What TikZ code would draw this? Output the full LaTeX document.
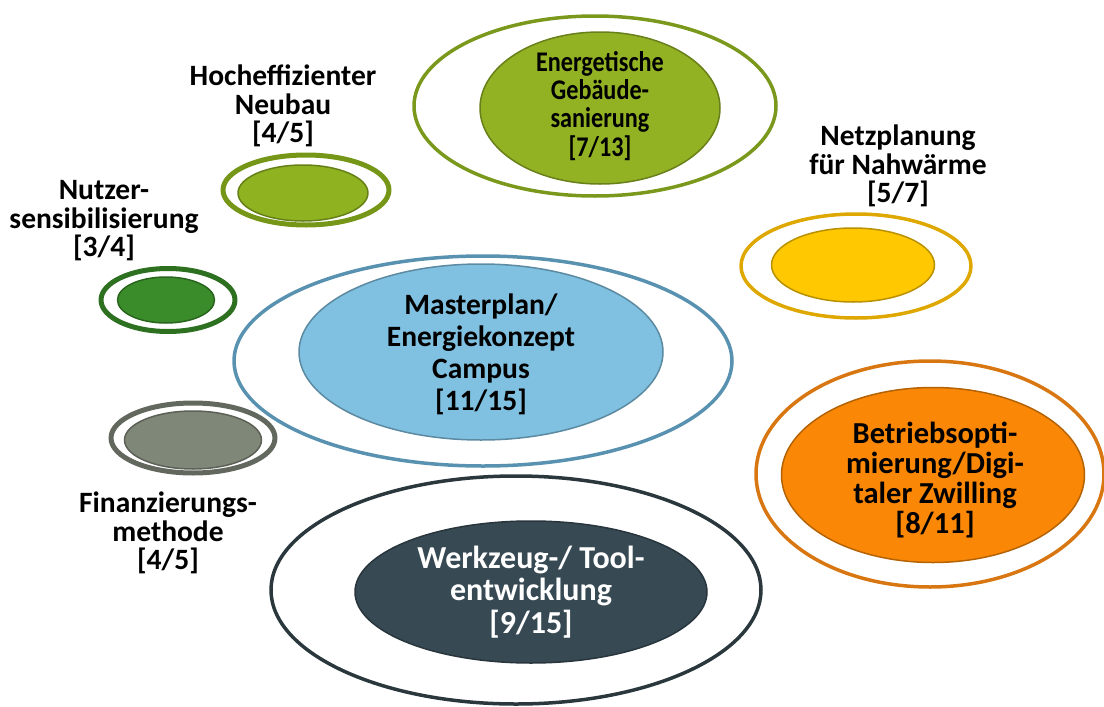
\documentclass[tikz,border=0pt]{standalone}
\usepackage{fontspec}
\setmainfont{Carlito}
\usetikzlibrary{shapes.geometric}

\definecolor{masterblue}{RGB}{128,192,224}
\definecolor{masterring}{RGB}{88,146,176}
\definecolor{sanigreen}{RGB}{146,178,36}
\definecolor{saniring}{RGB}{122,152,28}
\definecolor{neubaugreen}{RGB}{142,178,32}
\definecolor{neubauring}{RGB}{118,150,24}
\definecolor{nutzgreen}{RGB}{58,140,42}
\definecolor{nutzring}{RGB}{44,112,32}
\definecolor{finagray}{RGB}{126,135,120}
\definecolor{finaring}{RGB}{98,104,94}
\definecolor{netzyellow}{RGB}{255,200,0}
\definecolor{netzring}{RGB}{222,168,0}
\definecolor{betrorange}{RGB}{250,136,6}
\definecolor{betrring}{RGB}{216,118,18}
\definecolor{toolslate}{RGB}{55,74,84}
\definecolor{toolring}{RGB}{42,56,62}

\begin{document}
\begin{tikzpicture}[x=1pt,y=-1pt,line join=round,
  ring/.style={ellipse,draw=#1,line width=3.5pt,inner sep=0pt},
  thickring/.style={ellipse,draw=#1,line width=5pt,inner sep=0pt},
  blob/.style={ellipse,fill=#1,draw=#1!72!black,line width=1.5pt,inner sep=0pt,align=center},
  blobtext/.style={align=center,inner sep=0pt},
  tag/.style={align=center,font=\fontsize{29.5}{28.5}\selectfont\bfseries}]
\useasboundingbox (0,0) rectangle (1104,707);
% centre: masterplan
\node[ring=masterring,minimum width=498,minimum height=210] (masterouter) at (483,361) {};
\node[blob=masterblue,minimum width=364,minimum height=176] (master) at (481,352) {};
\node[blobtext,font=\fontsize{29.5}{32}\selectfont\bfseries] (mastertext) at ([yshift=-2pt]master.center)
  {Masterplan/\\Energiekonzept\\Campus\\{[11/15]}};
% top: building renovation
\node[ring=saniring,minimum width=362,minimum height=180] (saniouter) at (595,106) {};
\node[blob=sanigreen,minimum width=240,minimum height=152] (sani) at (600,108) {};
\node[blobtext,font=\fontsize{28.5}{27}\selectfont\bfseries] (sanitext) at (sani.center)
  {\scalebox{0.85}[1]{\begin{tabular}{@{}c@{}}Energetische\\Geb\"aude-\\sanierung\\{[7/13]}\end{tabular}}};
% bottom: tools
\node[ring=toolring,minimum width=490,minimum height=228] (toolouter) at (516,590) {};
\node[blob=toolslate,minimum width=352,minimum height=142] (tool) at (531,592) {};
\node[blobtext,text=white,font=\fontsize{32}{32.5}\selectfont\bfseries] (tooltext) at (tool.center)
  {Werkzeug-/ Tool-\\entwicklung\\{[9/15]}};
% right: operation
\node[ring=betrring,minimum width=348,minimum height=226] (betrouter) at (930,474) {};
\node[blob=betrorange,minimum width=303,minimum height=175] (betr) at (933,475) {};
\node[blobtext,font=\fontsize{30.5}{30}\selectfont\bfseries] (betrtext) at ([xshift=2pt,yshift=-5pt]betr.center)
  {Betriebsopti-\\mierung/Digi-\\taler Zwilling\\{[8/11]}};
% right: heat network
\node[ring=netzring,minimum width=230,minimum height=104] (netzouter) at (856,266) {};
\node[blob=netzyellow,minimum width=163,minimum height=74] (netz) at (853,265) {};
\node[tag] (netzlabel) at (898,166) {Netzplanung\\f\"ur Nahw\"arme\\{[5/7]}};
% left: small ones
\node[thickring=neubauring,minimum width=166,minimum height=70] (neubauouter) at (306,190) {};
\node[blob=neubaugreen,minimum width=130,minimum height=56] (neubau) at (303,193) {};
\node[tag] (neubaulabel) at (283,106) {Hocheffizienter\\Neubau\\{[4/5]}};
\node[thickring=nutzring,minimum width=134,minimum height=63] (nutzouter) at (168,300) {};
\node[blob=nutzgreen,minimum width=97,minimum height=46] (nutz) at (166,300) {};
\node[tag] (nutzlabel) at (104,221) {Nutzer-\\sensibilisierung\\{[3/4]}};
\node[thickring=finaring,minimum width=164,minimum height=70] (finaouter) at (193,438) {};
\node[blob=finagray,minimum width=137,minimum height=58] (fina) at (193,440) {};
\node[tag] (finalabel) at (168,533) {Finanzierungs-\\methode\\{[4/5]}};
\end{tikzpicture}
\end{document}
